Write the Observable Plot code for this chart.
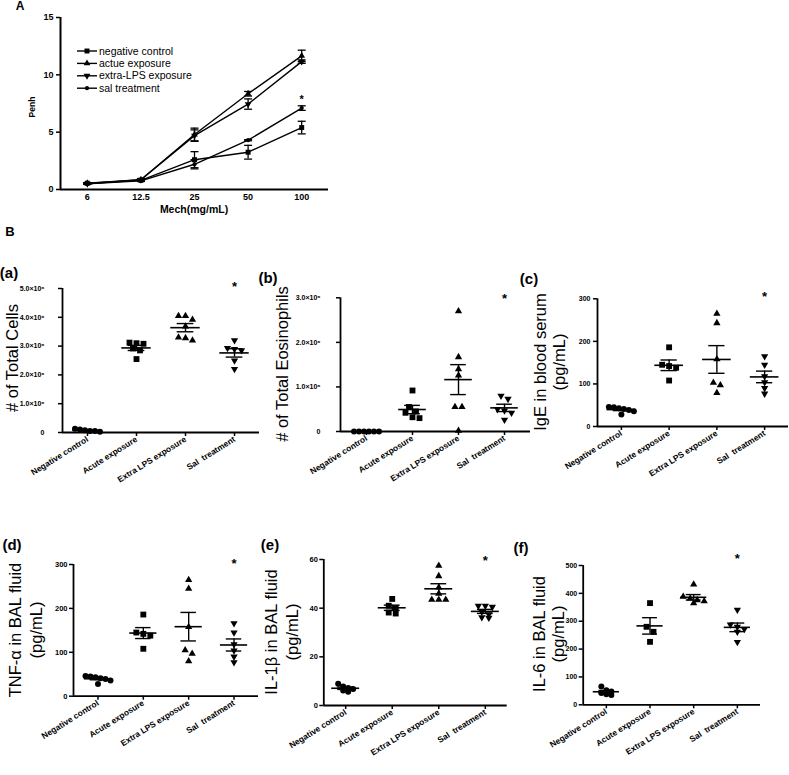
<!DOCTYPE html>
<html><head><meta charset="utf-8">
<script src="https://cdn.jsdelivr.net/npm/d3@7"></script>
<script src="https://cdn.jsdelivr.net/npm/@observablehq/plot@0.6"></script>
<style>
body{margin:0;background:#fff;}
#fig{position:relative;width:789px;height:775px;background:#fff;font-family:"Liberation Sans",Arial,Helvetica,sans-serif;overflow:hidden;color:#000;}
.panel{position:absolute;}
.t{position:absolute;white-space:pre;text-align:center;color:#000;}
</style></head><body><div id="fig"></div>
<script>
// ---------- Panel A data ----------
const doses = ["6", "12.5", "25", "50", "100"];
const seriesNames = ["negative control", "actue exposure", "extra-LPS exposure", "sal treatment"];
const penhNegMean = [0.55, 0.8, 2.6, 3.25, 5.4];
const penhNegSem = [0.05, 0.05, 0.7, 0.6, 0.55];
const penhAcuteMean = [0.55, 0.85, 4.8, 8.35, 11.65];
const penhAcuteSem = [0.05, 0.08, 0.55, 0.2, 0.5];
const penhExtraMean = [0.5, 0.85, 4.7, 7.45, 11.15];
const penhExtraSem = [0.05, 0.08, 0.5, 0.45, 0.15];
const penhSalMean = [0.5, 0.75, 2.2, 4.3, 7.1];
const penhSalSem = [0.05, 0.05, 0.4, 0.05, 0.2];
const penhTicks = [0, 5, 10, 15];
const penhStar = {dose: "100", value: 8.1};

// ---------- Panel B data ----------
const groups = ["Negative control", "Acute exposure", "Extra LPS exposure", "Sal\u00a0 treatment"];
// (a) total cells, x10^6
const totalCells = [
  [0.13, 0.05, 0.08, 0.03, 0.1, 0.05],
  [3.12, 3.1, 3.08, 2.92, 2.85, 2.55],
  [4.05, 4.05, 3.92, 3.68, 3.3, 3.28, 3.2],
  [3.2, 2.93, 2.9, 2.85, 2.5, 2.2]
];
const totalCellsTicks = [0, 1, 2, 3, 4, 5];
// (b) total eosinophils, x10^6
const eosinophils = [
  [0, 0, 0, 0, 0, 0],
  [0.92, 0.55, 0.45, 0.42, 0.32, 0.3],
  [2.7, 1.67, 1.4, 1.26, 0.55, 0.55, 0.02],
  [0.8, 0.73, 0.5, 0.47, 0.42, 0.26]
];
const eosinophilsTicks = [0, 1, 2, 3];
// (c) IgE in blood serum, pg/mL
const ige = [
  [46, 45, 43, 41, 39, 36, 28],
  [186, 145, 142, 138, 108],
  [265, 243, 158, 103, 97, 79],
  [165, 145, 118, 104, 90, 77]
];
const igeTicks = [0, 100, 200, 300];
// (d) TNF-alpha in BAL fluid, pg/mL
const tnf = [
  [46, 45, 43, 41, 39, 36, 28],
  [186, 145, 142, 138, 108],
  [265, 245, 158, 105, 97, 80],
  [166, 145, 118, 104, 90, 77]
];
const tnfTicks = [0, 100, 200, 300];
// (e) IL-1beta in BAL fluid, pg/mL
const il1b = [
  [8.9, 7.8, 7.2, 6.8, 6.2, 5.6],
  [43.8, 41, 40, 38.2, 37.8],
  [57.5, 53.2, 48.5, 46, 43.5, 43.5, 43.5],
  [41, 41, 40.5, 38.5, 37.5, 36.2, 36]
];
const il1bTicks = [0, 20, 40, 60];
// (f) IL-6 in BAL fluid, pg/mL
const il6 = [
  [66, 52, 48, 42, 38, 35],
  [365, 280, 262, 226],
  [432, 388, 382, 376, 372, 365],
  [341, 288, 280, 272, 262, 225]
];
const il6Ticks = [0, 100, 200, 300, 400, 500];
// significance star heights (data units)
const starValues = {a: 5.15, b: 3.05, c: 312, d: 308, e: 60.5, f: 536};

// ---------- helpers ----------
const FONT = '"Liberation Sans", Arial, Helvetica, sans-serif';
const fig = document.getElementById("fig");
const sqrt3 = Math.sqrt(3);
const triangleDown = {draw(c, size) {
  const y = -Math.sqrt(size / (sqrt3 * 3));
  c.moveTo(0, -y * 2); c.lineTo(-sqrt3 * y, y); c.lineTo(sqrt3 * y, y); c.closePath();
}};
const hline = {draw(c, size) { const r = Math.sqrt(size / Math.PI); c.moveTo(-r, 0); c.lineTo(r, 0); }};
const groupSymbols = [d3.symbolCircle, d3.symbolSquare, d3.symbolTriangle, triangleDown];
const groupRadii = [3.0, 3.3, 2.7, 2.7];
const groupSep = [5, 7, 7, 7];

function place(node, left, top) {
  node.classList.add("panel");
  node.style.left = left + "px";
  node.style.top = top + "px";
  fig.appendChild(node);
}
function addText(txt, cx, cy, size, weight, rotate = 0, lh = null) {
  const d = document.createElement("div");
  d.className = "t";
  d.textContent = txt;
  d.style.left = cx + "px";
  d.style.top = cy + "px";
  d.style.fontSize = size + "px";
  d.style.fontWeight = weight;
  d.style.lineHeight = (lh || size * 1.15) + "px";
  d.style.transform = `translate(-50%,-50%) rotate(${rotate}deg)`;
  fig.appendChild(d);
}

// ---------- Panel A ----------
const penhMeans = [penhNegMean, penhAcuteMean, penhExtraMean, penhSalMean];
const penhSems = [penhNegSem, penhAcuteSem, penhExtraSem, penhSalSem];
const penhRows = seriesNames.flatMap((name, si) => doses.map((dose, di) => ({name, si, di, mean: penhMeans[si][di], sem: penhSems[si][di]})));
const penhSymbols = [d3.symbolSquare, d3.symbolTriangle, triangleDown, d3.symbolCircle];
const penhRadii = [2.8, 2.5, 2.5, 2.1];

const plotA = Plot.plot({
  width: 340, height: 215, marginLeft: 60, marginRight: 12, marginTop: 17, marginBottom: 26,
  style: {fontFamily: FONT, fontWeight: "bold", fontSize: "9px", background: "transparent", overflow: "visible", color: "black"},
  x: {domain: [-0.5, doses.length - 0.5]},
  y: {domain: [0, 15]},
  symbol: {domain: seriesNames, range: penhSymbols},
  marks: [
    Plot.line(penhRows, {x: "di", y: "mean", z: "name", stroke: "black", strokeWidth: 1.4}),
    Plot.ruleX(penhRows, {x: "di", y1: d => d.mean - d.sem, y2: d => d.mean + d.sem, stroke: "black", strokeWidth: 1.3}),
    Plot.dot(penhRows, {x: "di", y: d => d.mean + d.sem, symbol: hline, r: 4, fill: "none", stroke: "black", strokeWidth: 1.3}),
    Plot.dot(penhRows, {x: "di", y: d => d.mean - d.sem, symbol: hline, r: 4, fill: "none", stroke: "black", strokeWidth: 1.3}),
    ...seriesNames.map((name, si) => Plot.dot(penhRows.filter(d => d.si === si), {x: "di", y: "mean", symbol: "name", fill: "black", stroke: "none", r: penhRadii[si]})),
    Plot.ruleX([-0.5], {stroke: "black", strokeWidth: 2}),
    Plot.ruleY([0], {stroke: "black", strokeWidth: 2}),
    Plot.axisY({ticks: penhTicks, tickSize: 4, tickPadding: 3, strokeWidth: 1.5, fontSize: 9, label: null}),
    Plot.axisX({ticks: d3.range(doses.length), tickFormat: i => doses[i], tickSize: 0, tickPadding: 4, fontSize: 9, label: null}),
    Plot.text([penhStar], {x: d => doses.indexOf(d.dose), y: "value", text: () => "*", fontSize: 11, dy: 3})
  ]
});
place(plotA, 0, 0);

// legend for A
(function legendA() {
  const svg = d3.create("svg").attr("width", 160).attr("height", 56)
    .style("font-family", FONT).style("overflow", "visible");
  seriesNames.forEach((name, i) => {
    const y = 6 + i * 12.4;
    svg.append("line").attr("x1", 2).attr("x2", 22).attr("y1", y).attr("y2", y).attr("stroke", "black").attr("stroke-width", 1.4);
    svg.append("path").attr("transform", `translate(12,${y})`).attr("d", d3.symbol(penhSymbols[i], penhRadii[i] * penhRadii[i] * Math.PI)()).attr("fill", "black");
    svg.append("text").attr("x", 24).attr("y", y).attr("dy", "0.35em").attr("font-size", 10.5).text(name);
  });
  place(svg.node(), 75, 45);
})();
addText("A", 20, 7, 12, "bold");
addText("Penh", 32.5, 107, 8.5, "bold", -90);
addText("Mech(mg/mL)", 194, 209, 10.5, "bold");
addText("B", 10, 232, 13, "bold");

// ---------- Panel B ----------
function dodgeOffsets(vals, pxPerUnit, sep) {
  const idx = d3.range(vals.length).sort((a, b) => vals[b] - vals[a]);
  const rows = [];
  for (const i of idx) {
    const py = vals[i] * pxPerUnit;
    const last = rows[rows.length - 1];
    if (last && Math.abs(last.py - py) < 5.5) last.items.push(i);
    else rows.push({py, items: [i]});
  }
  const offs = [];
  for (const r of rows) r.items.forEach((i, j) => { offs[i] = (j - (r.items.length - 1) / 2) * sep; });
  return offs;
}

function dotPanel(o) {
  const {values, yDomain, yTicks, yFmt, width, height, mL, mT, mB, mR, pad, star, tickPadding, tickFont} = o;
  const plotH = height - mT - mB, plotW = width - mL - mR;
  const pxPerY = plotH / (yDomain[1] - yDomain[0]);
  const step = plotW / (3 + 2 * pad);
  const pts = [], stats = [];
  values.forEach((vals, gi) => {
    const offs = dodgeOffsets(vals, pxPerY, groupSep[gi]);
    vals.forEach((v, k) => pts.push({gi, v, x: gi + offs[k] / step}));
    const m = d3.mean(vals);
    const s = vals.length > 1 ? d3.deviation(vals) / Math.sqrt(vals.length) : 0;
    stats.push({gi, m, lo: m - s, hi: m + s});
  });
  return Plot.plot({
    width, height, marginLeft: mL, marginRight: mR, marginTop: mT, marginBottom: mB,
    style: {fontFamily: FONT, fontWeight: "bold", fontSize: "8px", background: "transparent", overflow: "visible", color: "black"},
    x: {domain: [-pad, 3 + pad]},
    y: {domain: yDomain},
    symbol: {domain: groups, range: groupSymbols},
    marks: [
      Plot.ruleY(stats, {y: "m", x1: d => d.gi - 0.3, x2: d => d.gi + 0.3, stroke: "black", strokeWidth: 1.6}),
      Plot.ruleX(stats, {x: "gi", y1: "lo", y2: "hi", stroke: "black", strokeWidth: 1.4}),
      Plot.ruleY(stats, {y: "hi", x1: d => d.gi - 0.17, x2: d => d.gi + 0.17, stroke: "black", strokeWidth: 1.4}),
      Plot.ruleY(stats, {y: "lo", x1: d => d.gi - 0.17, x2: d => d.gi + 0.17, stroke: "black", strokeWidth: 1.4}),
      ...groups.map((g, gi) => Plot.dot(pts.filter(p => p.gi === gi), {x: "x", y: "v", symbol: () => g, fill: "black", stroke: "none", r: groupRadii[gi]})),
      Plot.ruleX([-pad], {stroke: "black", strokeWidth: 1.8}),
      Plot.ruleY([yDomain[0]], {stroke: "black", strokeWidth: 1.8}),
      Plot.axisY({ticks: yTicks, tickFormat: yFmt, tickSize: 4, tickPadding, strokeWidth: 1.5, fontSize: tickFont, label: null}),
      Plot.axisX({ticks: [0, 1, 2, 3], tickFormat: i => groups[i], tickRotate: -32, tickSize: 4, tickPadding: 2, strokeWidth: 1.5, fontSize: 8.4, label: null}),
      Plot.text([star], {x: () => 3, y: d => d, text: () => "*", fontSize: 13, dy: 3})
    ]
  });
}
const sci = d => d === 0 ? "0" : d.toFixed(1) + "\u00d710\u2076";

place(dotPanel({values: totalCells, yDomain: [0, 5], yTicks: totalCellsTicks, yFmt: sci,
  width: 265, height: 250, mL: 62, mT: 48, mB: 58, mR: 6, pad: 0.51, star: starValues.a, tickPadding: 14, tickFont: 7}), 0, 240);
place(dotPanel({values: eosinophils, yDomain: [0, 3], yTicks: eosinophilsTicks, yFmt: sci,
  width: 270, height: 250, mL: 80, mT: 57.3, mB: 59, mR: 0, pad: 0.565, star: starValues.b, tickPadding: 16, tickFont: 7}), 260, 240);
place(dotPanel({values: ige, yDomain: [0, 300], yTicks: igeTicks, yFmt: d => d,
  width: 279, height: 250, mL: 87, mT: 58.3, mB: 64, mR: 1, pad: 0.5, star: starValues.c, tickPadding: 3, tickFont: 7}), 510, 240);
place(dotPanel({values: tnf, yDomain: [0, 300], yTicks: tnfTicks, yFmt: d => d,
  width: 265, height: 245, mL: 73, mT: 34, mB: 79.3, mR: 7, pad: 0.54, star: starValues.d, tickPadding: 2, tickFont: 7.5}), 0, 530);
place(dotPanel({values: il1b, yDomain: [0, 60], yTicks: il1bTicks, yFmt: d => d,
  width: 255, height: 245, mL: 63.3, mT: 29, mB: 70, mR: 8.3, pad: 0.47, star: starValues.e, tickPadding: 2, tickFont: 7.5}), 260, 530);
place(dotPanel({values: il6, yDomain: [0, 500], yTicks: il6Ticks, yFmt: d => d,
  width: 279, height: 245, mL: 72.7, mT: 35, mB: 70.7, mR: 29, pad: 0.53, star: starValues.f, tickPadding: 2, tickFont: 7}), 510, 530);

// panel labels
addText("(a)", 9, 273, 15, "bold");
addText("(b)", 268, 278, 15, "bold");
addText("(c)", 529, 279, 15, "bold");
addText("(d)", 12, 545, 15, "bold");
addText("(e)", 270, 545, 15, "bold");
addText("(f)", 521, 548, 15, "bold");
// y axis titles
addText("# of Total Cells", 12, 358, 16.5, "normal", -90);
addText("# of Total Eosinophils", 282, 364, 16.5, "normal", -90);
addText("IgE in blood serum\n(pg/mL)", 550, 362, 16.5, "normal", -90, 19);
addText("TNF-\u03b1 in BAL fluid\n(pg/mL)", 26, 630, 16.5, "normal", -90, 21);
addText("IL-1\u03b2 in BAL fluid\n(pg/mL)", 282, 632, 16.5, "normal", -90, 21);
addText("IL-6 in BAL fluid\n(pg/mL)", 549, 634, 16.5, "normal", -90, 19);
</script></body></html>
